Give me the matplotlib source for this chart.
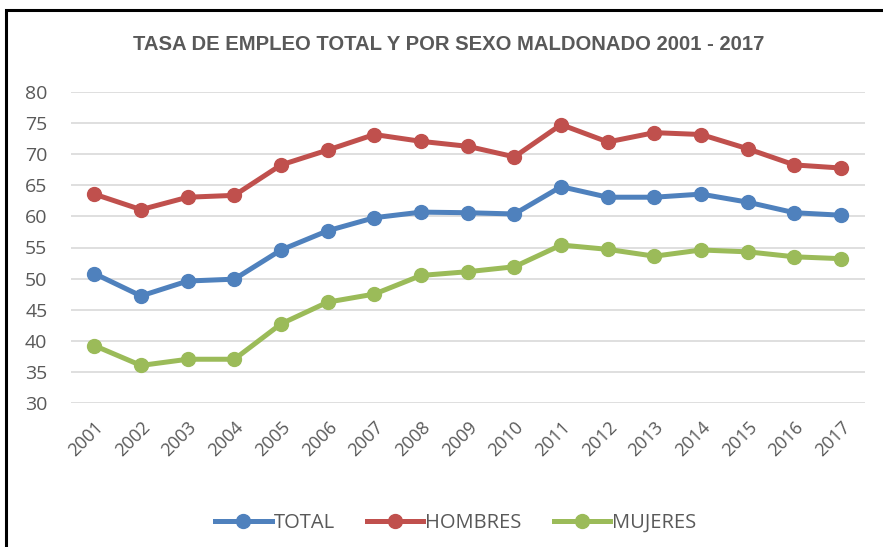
import matplotlib
matplotlib.use("Agg")
import matplotlib.pyplot as plt
from matplotlib.lines import Line2D
from matplotlib.patches import Rectangle

years = ["2001", "2002", "2003", "2004", "2005", "2006", "2007", "2008", "2009",
         "2010", "2011", "2012", "2013", "2014", "2015", "2016", "2017"]
total = [50.8, 47.2, 49.6, 49.9, 54.6, 57.7, 59.8, 60.7, 60.6, 60.4, 64.8, 63.1,
         63.1, 63.6, 62.3, 60.6, 60.2]
hombres = [63.6, 61.1, 63.1, 63.4, 68.3, 70.7, 73.2, 72.1, 71.3, 69.6, 74.8, 72.0,
           73.5, 73.2, 70.9, 68.3, 67.8]
mujeres = [39.2, 36.0, 37.0, 37.0, 42.7, 46.2, 47.5, 50.5, 51.1, 51.9, 55.4, 54.7,
           53.6, 54.6, 54.3, 53.5, 53.2]
series_names = ["TOTAL", "HOMBRES", "MUJERES"]
title = "TASA DE EMPLEO TOTAL Y POR SEXO MALDONADO 2001 - 2017"

colors = ["#4F81BD", "#C0504D", "#9BBB59"]
gray = "#595959"

plt.rcParams['font.family'] = ['Open Sans', 'DejaVu Sans']

fig = plt.figure(figsize=(8.83, 5.47), dpi=100)
ax = fig.add_axes([71/883, 1-402.7/547, (864.5-71)/883, (402.7-92.3)/547])

x = list(range(len(years)))
for vals, c, name in zip([total, hombres, mujeres], colors, series_names):
    ax.plot(x, vals, color=c, lw=3.6, marker='o', ms=10, label=name,
            solid_capstyle='round', zorder=3)

ax.set_xlim(-0.5, len(years) - 0.5)
ax.set_ylim(30, 80)
ax.set_yticks(range(30, 81, 5))
ax.set_xticks(x)
ax.set_xticklabels(years, rotation=45, ha='right', va='top', rotation_mode='anchor',
                   fontsize=13, color=gray)
for lab in ax.get_yticklabels():
    lab.set_fontsize(14)
    lab.set_color(gray)
ax.tick_params(axis='both', length=0)
ax.tick_params(axis='y', pad=17)
ax.tick_params(axis='x', pad=11)
ax.grid(axis='y', color='#D9D9D9', lw=1.2, zorder=0)
for s in ax.spines.values():
    s.set_visible(False)

fig.text(449/883, 1-45/547, title, ha='center', va='center', fontsize=14.6,
         fontweight='bold', color=gray,
         family=['Liberation Sans Narrow', 'Liberation Sans', 'DejaVu Sans'])

handles = [Line2D([0], [0], color=c, lw=3.6, marker='o', ms=10) for c in colors]
leg = fig.legend(handles, series_names, loc='center', bbox_to_anchor=(456/883, 1-523/547),
                 ncol=3, frameon=False, fontsize=14.5, handlelength=2.8, handletextpad=0.1,
                 columnspacing=1.6, labelcolor=gray)

fig.patches.append(Rectangle((6/883, -0.1), 2, 1 - 10/547 + 0.1, transform=fig.transFigure,
                             fill=False, edgecolor='black', lw=2.2))

fig.savefig("out.png", dpi=100, facecolor='white')
